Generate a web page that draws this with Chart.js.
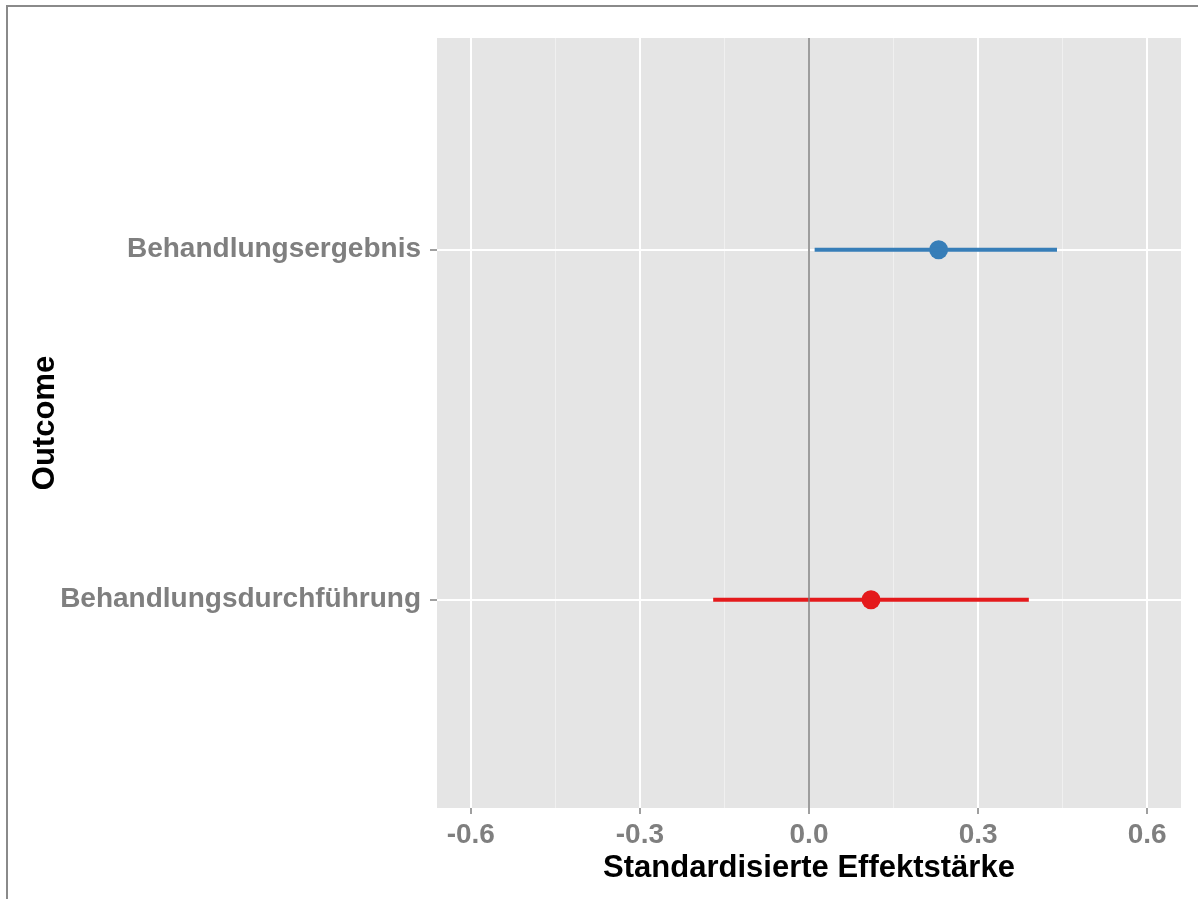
<!DOCTYPE html>
<html>
<head>
<meta charset="utf-8">
<script src="https://cdn.jsdelivr.net/npm/chart.js@4/dist/chart.umd.min.js"></script>
<style>
  body { margin: 0; background: #fff; }
  #wrap { position: relative; width: 1198px; height: 899px; overflow: hidden; }
  #rahmen { position: absolute; left: 6px; top: 5px; width: 1300px; height: 1000px;
            border-top: 2px solid #8a8a8a; border-left: 2px solid #8a8a8a; }
  canvas { position: absolute; left: 0; top: 0; }
</style>
</head>
<body>
<div id="wrap">
  <div id="rahmen"></div>
  <canvas id="forest" width="1198" height="899"></canvas>
</div>
<script>
// Daten aus der Abbildung (von oben nach unten)
const outcomes = ['Behandlungsergebnis', 'Behandlungsdurchführung'];
const effekte = [0.23, 0.11];
const untereGrenze = [0.01, -0.17];
const obereGrenze = [0.44, 0.39];
const farben = ['#377EB8', '#E41A1C'];

// Achsenbeschriftung
const xTicksMajor = [-0.6, -0.3, 0.0, 0.3, 0.6];
const xTicksMinor = [-0.45, -0.15, 0.15, 0.45];
const xBereich = [-0.66, 0.66];
const yBereich = [-0.605, 1.595];

const schrift = '"Liberation Sans", Arial, sans-serif';

function istMajor(wert) {
    return xTicksMajor.some(t => Math.abs(t - wert) < 1e-9);
}

// Hintergrund des Panels
const panelHintergrund = {
    id: 'panelHintergrund',
    beforeDraw(chart) {
        const { ctx, chartArea } = chart;
        ctx.save();
        ctx.fillStyle = '#E5E5E5';
        ctx.fillRect(chartArea.left, chartArea.top, chartArea.right - chartArea.left, chartArea.bottom - chartArea.top);
        ctx.restore();
    }
};

const datasets = [];

// Nulllinie
datasets.push({
    data: [{ x: 0, y: yBereich[0] }, { x: 0, y: yBereich[1] }],
    showLine: true,
    borderColor: '#7d7d7d',
    borderWidth: 1.5,
    pointRadius: 0
});

// Konfidenzintervalle
outcomes.forEach((name, i) => {
    datasets.push({
        label: name,
        data: [{ x: untereGrenze[i], y: i }, { x: obereGrenze[i], y: i }],
        showLine: true,
        borderColor: farben[i],
        borderWidth: 4,
        pointRadius: 0
    });
});

// Punktschätzer
outcomes.forEach((name, i) => {
    datasets.push({
        label: name,
        data: [{ x: effekte[i], y: i }],
        backgroundColor: farben[i],
        borderColor: farben[i],
        pointRadius: 9.5,
        borderWidth: 0
    });
});

new Chart(document.getElementById('forest'), {
    type: 'scatter',
    data: { datasets: datasets },
    plugins: [panelHintergrund],
    options: {
        responsive: false,
        animation: false,
        layout: { padding: { top: 38, right: 17, bottom: 0, left: 0 } },
        plugins: {
            legend: { display: false },
            tooltip: { enabled: false }
        },
        scales: {
            x: {
                type: 'linear',
                min: xBereich[0],
                max: xBereich[1],
                afterBuildTicks: scale => {
                    scale.ticks = xTicksMajor.concat(xTicksMinor)
                        .sort((a, b) => a - b)
                        .map(v => ({ value: v }));
                },
                afterFit: scale => { scale.height = 91; },
                border: { display: false },
                grid: {
                    color: ctx => istMajor(ctx.tick.value) ? '#FFFFFF' : '#F0F0F0',
                    lineWidth: ctx => istMajor(ctx.tick.value) ? 2 : 1,
                    tickColor: ctx => istMajor(ctx.tick.value) ? '#7F7F7F' : 'rgba(0,0,0,0)',
                    tickLength: 6,
                    tickWidth: 1.5
                },
                ticks: {
                    autoSkip: false,
                    maxRotation: 0,
                    padding: 4,
                    color: '#7F7F7F',
                    font: { family: schrift, size: 28, weight: 'bold' },
                    callback: v => istMajor(v) ? v.toFixed(1) : ''
                },
                title: {
                    display: true,
                    text: 'Standardisierte Effektstärke',
                    color: '#000',
                    font: { family: schrift, size: 31, weight: 'bold' },
                    padding: { top: 0, bottom: 12 }
                }
            },
            y: {
                type: 'linear',
                reverse: true,
                min: yBereich[0],
                max: yBereich[1],
                afterBuildTicks: scale => {
                    scale.ticks = outcomes.map((_, i) => ({ value: i }));
                },
                afterFit: scale => { scale.width = 437; },
                border: { display: false },
                grid: {
                    color: '#FFFFFF',
                    lineWidth: 2,
                    tickColor: '#7F7F7F',
                    tickLength: 7,
                    tickWidth: 1.5
                },
                ticks: {
                    autoSkip: false,
                    padding: 9,
                    color: '#7F7F7F',
                    font: { family: schrift, size: 28, weight: 'bold' },
                    callback: v => outcomes[v] || ''
                },
                title: {
                    display: true,
                    text: 'Outcome',
                    color: '#000',
                    font: { family: schrift, size: 31, weight: 'bold' },
                    padding: { top: 27, bottom: 0 }
                }
            }
        }
    }
});
</script>
</body>
</html>
